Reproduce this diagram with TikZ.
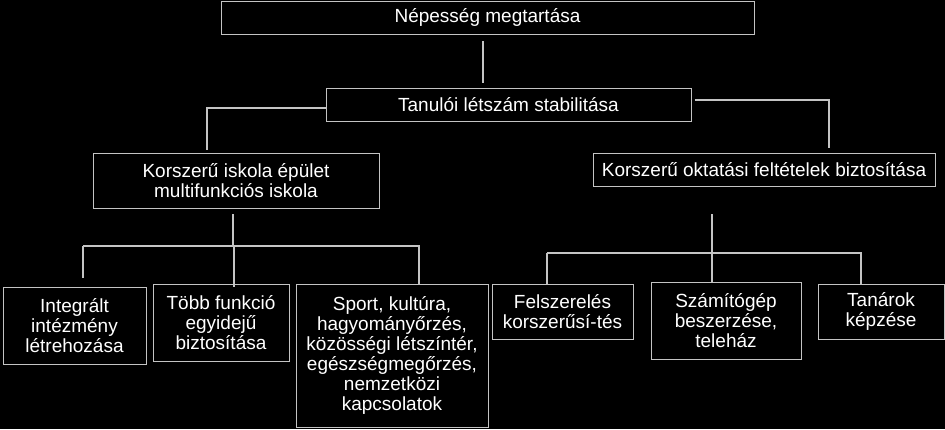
\documentclass[tikz,border=0pt]{standalone}
\usepackage{fontspec}
\setmainfont{Liberation Sans}
\definecolor{lineclr}{HTML}{C4C4C4}

\begin{document}
\begin{tikzpicture}[x=1pt,y=-1pt,
    box/.style={draw=lineclr,line width=1pt,fill=black,text=white,align=center,inner sep=0pt,
      font=\fontsize{19}{20}\selectfont},
    link/.style={draw=lineclr,line width=1.3pt}]
  \fill[black] (0,0) rectangle (945,429);

  \node[box,minimum width=533pt,minimum height=33pt] (top) at (487.5,17.5) {Népesség megtartása};
  \node[box,minimum width=365pt,minimum height=33pt] (tan) at (508.5,104.5) {Tanulói létszám stabilitása};
  \node[box,minimum width=286pt,minimum height=55pt] (isk) at (236,180.5) {Korszerű iskola épület\\multifunkciós iskola};
  \node[box,minimum width=342pt,minimum height=33pt] (okt) at (764,169.5) {Korszerű oktatási feltételek biztosítása};

  \node[box,minimum width=143pt,minimum height=77pt] (integ) at (74.5,325.5) {Integrált\\intézmény\\létrehozása};
  \node[box,minimum width=136pt,minimum height=77pt] (tobb) at (221,322.5) {Több funkció\\egyidejű\\biztosítása};
  \node[box,minimum width=192pt,minimum height=143pt] (sport) at (392,355.5) {Sport, kultúra,\\hagyományőrzés,\\közösségi létszíntér,\\egészségmegőrzés,\\nemzetközi\\kapcsolatok};
  \node[box,minimum width=141pt,minimum height=55pt] (felsz) at (562.5,311.5) {Felszerelés\\korszerűsí-tés};
  \node[box,minimum width=150pt,minimum height=77pt] (szam) at (726,320.5) {Számítógép\\beszerzése,\\teleház};
  \node[box,minimum width=126pt,minimum height=55pt] (tanar) at (881,311.5) {Tanárok\\képzése};

  \coordinate (stem0) at (483,41);
  \coordinate (lstem) at (233,214);
  \coordinate (lbus) at (83,246);
  \coordinate (lbusr) at (419,246);
  \coordinate (rstem) at (712,214);
  \coordinate (rbus) at (547,253);
  \coordinate (rbusr) at (861,253);

  \draw[link] (stem0) -- ++(0,42);
  \draw[link] ([yshift=-3.5pt]tan.west) -| ([yshift=3pt]isk.north -| 207,0);
  \draw[link] ([xshift=3pt,yshift=4.5pt]tan.east) -| ([yshift=5pt]okt.north -| 829,0);

  \draw[link] (lstem) -- (lstem |- lbus);
  \draw[link] (lbus) -- (lbusr) -- (lbusr |- sport.north);
  \draw[link] (lbus) -- ++(0,32);
  \draw[link] (tobb.north |- lbus) ++(13,0) -- ([xshift=13pt,yshift=-3pt]tobb.north);

  \draw[link] (rstem) -- (rstem |- rbus);
  \draw[link] (rbus) -- (rbusr) -- (rbusr |- tanar.north);
  \draw[link] (rbus) -- (rbus |- felsz.north);
  \draw[link] (rstem |- rbus) -- ([yshift=-1pt]szam.north -| rstem);
\end{tikzpicture}
\end{document}
